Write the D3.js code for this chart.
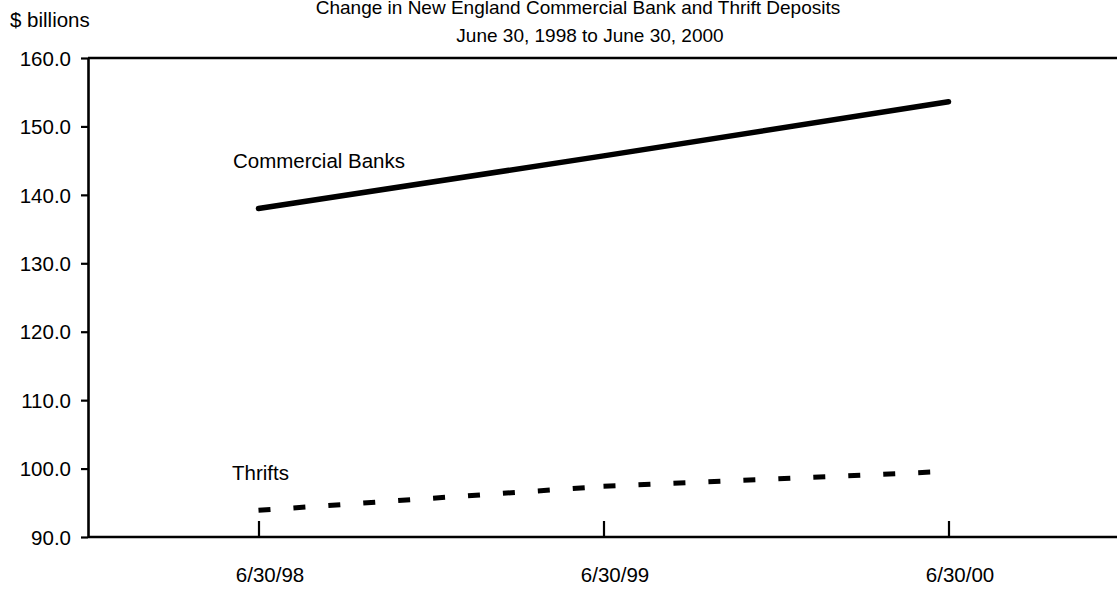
<!DOCTYPE html>
<html>
<head>
<meta charset="utf-8">
<script src="https://cdn.jsdelivr.net/npm/d3@7"></script>
<style>
  html, body { margin: 0; padding: 0; background: #fff; }
  svg { display: block; font-family: "Liberation Sans", Arial, sans-serif; }
</style>
</head>
<body>
<svg id="chart" width="1117" height="590"></svg>
<script>
// Deposits, $ billions
const dates = ["6/30/98", "6/30/99", "6/30/00"];
const commercialBanks = [138.0, 145.7, 153.6];
const thrifts = [93.9, 97.4, 99.6];
const yTicks = [90, 100, 110, 120, 130, 140, 150, 160];
const titleLines = [
  "Change in New England Commercial Bank and Thrift Deposits",
  "June 30, 1998 to June 30, 2000"
];

const W = 1117, H = 590;
const plotLeft = 88, plotTop = 58, plotBottom = 537;
const labelSize = 20.5;

const svg = d3.select("#chart");

const x = d3.scalePoint().domain(dates).range([86, 1121]).padding(0.5);
const y = d3.scaleLinear().domain([90, 160]).range([plotBottom, plotTop]);

// Titles
svg.append("text").attr("x", 578).attr("y", 14)
  .attr("text-anchor", "middle").attr("font-size", 19).text(titleLines[0]);
svg.append("text").attr("x", 590).attr("y", 42)
  .attr("text-anchor", "middle").attr("font-size", 19).text(titleLines[1]);

// Unit label
svg.append("text").attr("x", 10).attr("y", 27)
  .attr("font-size", labelSize).text("$ billions");

// Frame lines: top edge and x baseline
svg.append("line").attr("x1", plotLeft).attr("x2", W).attr("y1", plotTop).attr("y2", plotTop)
  .attr("stroke", "#000").attr("stroke-width", 2.6);
svg.append("line").attr("x1", plotLeft).attr("x2", W).attr("y1", plotBottom).attr("y2", plotBottom)
  .attr("stroke", "#000").attr("stroke-width", 2.6);

// Y axis
const yAxis = svg.append("g").attr("transform", `translate(${plotLeft},0)`)
  .call(d3.axisLeft(y).tickValues(yTicks).tickFormat(d3.format(".1f"))
    .tickSizeInner(7).tickSizeOuter(0).tickPadding(10));
yAxis.select(".domain").attr("stroke", "#000").attr("stroke-width", 2.6);
yAxis.selectAll(".tick line").attr("stroke", "#000").attr("stroke-width", 2.2);
yAxis.selectAll(".tick text").attr("font-size", labelSize).attr("fill", "#000")
  .attr("font-family", "Liberation Sans, Arial, sans-serif").attr("dy", "0.35em");

// X axis (ticks point up into the plot)
const xAxis = svg.append("g").attr("transform", `translate(0,${plotBottom})`)
  .call(d3.axisBottom(x).tickSizeInner(-16).tickSizeOuter(0));
xAxis.select(".domain").remove();
xAxis.selectAll(".tick line").attr("stroke", "#000").attr("stroke-width", 2.2);
xAxis.selectAll(".tick text").attr("font-size", labelSize).attr("fill", "#000")
  .attr("font-family", "Liberation Sans, Arial, sans-serif")
  .attr("y", 45).attr("dy", 0).attr("dx", 11);

// Commercial banks: solid line
const line = d3.line().x((d, i) => x(dates[i])).y(d => y(d));
svg.append("path").datum(commercialBanks)
  .attr("d", line).attr("fill", "none").attr("stroke", "#000")
  .attr("stroke-width", 5.5).attr("stroke-linecap", "round").attr("stroke-linejoin", "round");

// Thrifts: dashed line, dash pattern restarts on each segment
const thriftSegs = d3.pairs(thrifts.map((v, i) => [dates[i], v]));
svg.append("g").selectAll("path").data(thriftSegs).join("path")
  .attr("d", s => d3.line().x(p => x(p[0])).y(p => y(p[1]))(s))
  .attr("fill", "none").attr("stroke", "#000")
  .attr("stroke-width", 5).attr("stroke-dasharray", "12,23").attr("stroke-linecap", "butt");

// Series labels
svg.append("text").attr("x", 233).attr("y", 168).attr("font-size", labelSize).text("Commercial Banks");
svg.append("text").attr("x", 232).attr("y", 480).attr("font-size", labelSize).text("Thrifts");
</script>
</body>
</html>
